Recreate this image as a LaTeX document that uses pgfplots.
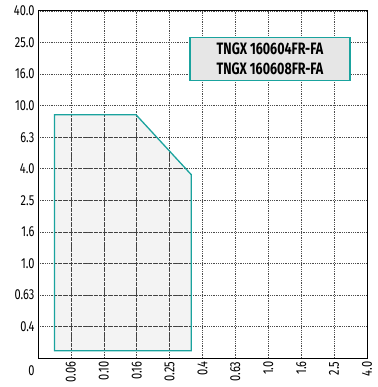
\documentclass[border=0pt]{standalone}
\usepackage{fontspec}
\setmainfont{Fira Sans}[FakeStretch=0.76]
\usepackage{pgfplots}
\pgfplotsset{compat=1.18}
\definecolor{tealc}{RGB}{26,163,158}
\definecolor{fillc}{RGB}{243,243,243}
\definecolor{legfill}{RGB}{230,230,230}
\begin{document}
\begin{tikzpicture}
\begin{axis}[
  set layers,
  anchor=south west, at={(0pt,0pt)},
  scale only axis, width=329pt, height=347pt,
  xmin=0, xmax=10, ymin=0, ymax=11,
  xtick={1,...,10},
  xticklabels={0.06,0.10,0.16,0.25,0.4,0.63,1.0,1.6,2.5,4.0},
  ytick={1,...,11},
  yticklabels={0.4,0.63,1.0,1.6,2.5,4.0,6.3,10.0,16.0,25.0,40.0},
  extra y ticks={0}, extra y tick labels={0},
  extra y tick style={grid=none, yticklabel style={yshift=-13pt}},
  /pgf/number format/assume math mode=true,
  x tick label style={rotate=90, anchor=east, font=\fontsize{14.5}{15}\selectfont},
  y tick label style={font=\fontsize{14.5}{15}\selectfont},
  major tick length=0pt,
  grid=major,
  major grid style={black!70, dash pattern=on 0.8pt off 1pt, line width=0.6pt},
  axis line style={black, line width=1pt},
  clip=false,
]
% polygon fill below grid
\addplot[on layer=axis background, fill=fillc, draw=none]
  coordinates {(0.5,0.23) (0.5,7.71) (2.98,7.71) (4.66,5.81) (4.66,0.23)} -- cycle;
% dashed grid inside polygon
\pgfplotsset{ingrid/.style={black!75, dash pattern=on 3pt off 2pt, line width=0.6pt}}
\addplot[ingrid] coordinates {(1,0.23) (1,7.71)};
\addplot[ingrid] coordinates {(2,0.23) (2,7.71)};
\addplot[ingrid] coordinates {(3,0.23) (3,7.69)};
\addplot[ingrid] coordinates {(4,0.23) (4,6.56)};
\addplot[ingrid] coordinates {(0.5,1) (4.66,1)};
\addplot[ingrid] coordinates {(0.5,2) (4.66,2)};
\addplot[ingrid] coordinates {(0.5,3) (4.66,3)};
\addplot[ingrid] coordinates {(0.5,4) (4.66,4)};
\addplot[ingrid] coordinates {(0.5,5) (4.66,5)};
\addplot[ingrid] coordinates {(0.5,6) (4.49,6)};
\addplot[ingrid] coordinates {(0.5,7) (3.61,7)};
% polygon outline
\addplot[draw=tealc, line width=1.3pt, line join=miter]
  coordinates {(0.5,0.23) (0.5,7.71) (2.98,7.71) (4.66,5.81) (4.66,0.23)} -- cycle;
% legend box
\node[fill=legfill, draw=tealc, line width=1.3pt, minimum width=160pt, minimum height=43pt,
      align=center, inner sep=0pt, font=\fontsize{16.5}{20}\selectfont\bfseries]
  at (axis cs:7.05,9.48) {TNGX 160604FR-FA\\TNGX 160608FR-FA};
\end{axis}
\pgfresetboundingbox
\path[use as bounding box] (-38pt,-29pt) rectangle (339pt,358pt);
\end{tikzpicture}
\end{document}
